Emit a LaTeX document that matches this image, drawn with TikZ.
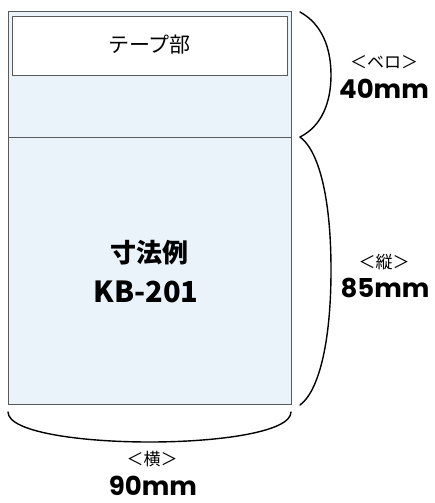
\documentclass[tikz,border=0pt]{standalone}
\usepackage{fontspec}
\newfontfamily\jp{Noto Sans CJK JP}
\newfontfamily\num{Poppins}
\definecolor{bagblue}{HTML}{EBF3FA}
\definecolor{edgegray}{HTML}{5A5A5A}

\begin{document}
\begin{tikzpicture}[x=1pt, y=-1pt,
    label/.style={font=\jp\fontsize{17}{17}\selectfont, inner sep=0pt},
    size/.style={font=\num\bfseries\fontsize{26}{26}\selectfont, inner sep=0pt, anchor=base},
    brace/.style={line width=1.4pt, line cap=round}]
                \useasboundingbox (0,0) rectangle (434,503);

                % bag body
                \draw[fill=bagblue, draw=edgegray, line width=1pt] (8,12) rectangle (291,404);
                \draw[draw=edgegray, line width=1pt] (8,137) -- (291,137);
                \draw[fill=white, draw=edgegray, line width=0.8pt] (12,16) rectangle (287,75);

                \node[label, font=\jp\fontsize{21}{21}\selectfont] (tape) at (149.5,45) {テープ部};
                \node[inner sep=0pt, font=\jp\bfseries\fontsize{26}{26}\selectfont] (ex) at (149.5,253) {寸法例};
                \node[inner sep=0pt, anchor=base, font=\jp\bfseries\fontsize{29}{29}\selectfont] (kb) at (146,302) {KB-201};

                % braces
                \coordinate (b1) at (300,12);
                \coordinate (b2) at (300,137);
                \coordinate (b3) at (300,405);
                \coordinate (b4) at (8,412);
                \coordinate (b5) at (291,412);
                \draw[brace] (b1) .. controls (322,24) and (331,48) .. (331,75)
                    .. controls (331,102) and (322,126) .. (b2);
                \draw[brace] (b2) .. controls (318,150) and (331,195) .. (331,270)
                    .. controls (331,345) and (318,392) .. (b3);
                \draw[brace] (b4) .. controls (8,432) and (80,442) .. (149.5,442)
                    .. controls (219,442) and (291,432) .. (b5);

                % dimensions
                \node[label] (flapname) at (384,62) {＜ベロ＞};
                \node[size] (flap) at (384,98) {40mm};
                \node[label] (lenname) at (384,262) {＜縦＞};
                \node[size] (len) at (385,297) {85mm};
                \node[label] (widname) at (152,459) {＜横＞};
                \node[size] (wid) at (153,495) {90mm};
            \end{tikzpicture}
\end{document}
